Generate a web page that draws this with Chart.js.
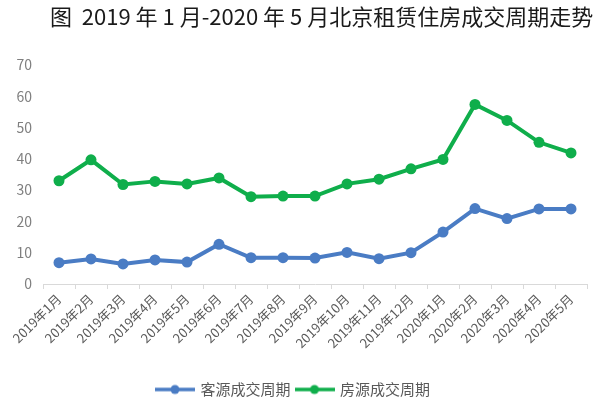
<!DOCTYPE html>
<html lang="zh">
<head>
<meta charset="utf-8">
<title>北京租赁住房成交周期走势</title>
<script src="https://cdn.jsdelivr.net/npm/chart.js"></script>
<style>
    html, body { margin: 0; padding: 0; background: #ffffff; }
    #wrap { width: 600px; height: 413px; position: relative; }
</style>
</head>
<body>
<div id="wrap"><canvas id="trendChart"></canvas></div>
<script>
// 数据：数值（天）
const titleText = "图  2019 年 1 月-2020 年 5 月北京租赁住房成交周期走势";
const months = ["2019年1月", "2019年2月", "2019年3月", "2019年4月", "2019年5月", "2019年6月",
    "2019年7月", "2019年8月", "2019年9月", "2019年10月", "2019年11月", "2019年12月",
    "2020年1月", "2020年2月", "2020年3月", "2020年4月", "2020年5月"];
const clientCycle = [6.8, 8.0, 6.4, 7.7, 7.0, 12.7, 8.4, 8.4, 8.3, 10.1, 8.1, 10.0, 16.6, 24.1, 20.9, 24.0, 24.0];
const houseCycle = [33.0, 39.7, 31.8, 32.8, 32.0, 33.9, 27.9, 28.1, 28.1, 32.0, 33.5, 36.8, 39.8, 57.4, 52.3, 45.3, 41.9];
const seriesNames = ["客源成交周期", "房源成交周期"];
const yMin = 0, yMax = 70, yStep = 10;

const blue = "#4a7cc4";
const green = "#0fae4b";
const fontFamily = '"Noto Sans CJK SC", "Noto Sans", sans-serif';

// 图例里的“线+圆点”标记
function makeLegendMarker(color) {
    const c = document.createElement("canvas");
    c.width = 40;
    c.height = 12;
    const g = c.getContext("2d");
    g.strokeStyle = color;
    g.lineWidth = 3.5;
    g.beginPath();
    g.moveTo(0, 6);
    g.lineTo(40, 6);
    g.stroke();
    g.fillStyle = color;
    g.beginPath();
    g.arc(20, 6, 4.5, 0, Math.PI * 2);
    g.fill();
    return c;
}
const markers = [makeLegendMarker(blue), makeLegendMarker(green)];

// 标题：靠左画在顶部
const titlePlugin = {
    id: "leftTitle",
    afterDraw(chart) {
        const ctx = chart.ctx;
        ctx.save();
        ctx.font = '22px ' + fontFamily;
        ctx.fillStyle = "#1a1a1a";
        ctx.textAlign = "left";
        ctx.textBaseline = "middle";
        ctx.fillText(titleText, 50, 17);
        ctx.restore();
    }
};

const ctx = document.getElementById("trendChart").getContext("2d");
new Chart(ctx, {
    type: "line",
    data: {
        labels: months,
        datasets: [{
            label: seriesNames[0],
            data: clientCycle,
            borderColor: blue,
            backgroundColor: blue,
            borderWidth: 4,
            pointRadius: 5.5,
            pointHoverRadius: 5.5,
            pointBorderWidth: 0,
            tension: 0
        }, {
            label: seriesNames[1],
            data: houseCycle,
            borderColor: green,
            backgroundColor: green,
            borderWidth: 4,
            pointRadius: 5.5,
            pointHoverRadius: 5.5,
            pointBorderWidth: 0,
            tension: 0
        }]
    },
    options: {
        responsive: true,
        maintainAspectRatio: false,
        animation: false,
        layout: { padding: { top: 65, right: 13, left: 0, bottom: 6 } },
        plugins: {
            title: { display: false },
            tooltip: { enabled: false },
            legend: {
                position: "bottom",
                labels: {
                    usePointStyle: true,
                    pointStyleWidth: 36,
                    boxHeight: 12,
                    padding: 6,
                    color: "#595959",
                    font: { size: 15, family: fontFamily },
                    generateLabels: function (chart) {
                        const items = Chart.defaults.plugins.legend.labels.generateLabels(chart);
                        items.forEach(item => { item.pointStyle = markers[item.datasetIndex]; });
                        return items;
                    }
                }
            }
        },
        scales: {
            x: {
                offset: true,
                grid: {
                    offset: true,
                    drawOnChartArea: false,
                    color: "#d9d9d9",
                    tickLength: 5
                },
                border: { color: "#d9d9d9" },
                ticks: {
                    autoSkip: false,
                    minRotation: 45,
                    maxRotation: 45,
                    padding: 2,
                    color: "#595959",
                    font: { size: 13, family: fontFamily }
                },
                afterFit: function (scale) { scale.height = 92; }
            },
            y: {
                min: yMin,
                max: yMax,
                grid: { display: false, drawTicks: false },
                border: { display: false },
                ticks: {
                    stepSize: yStep,
                    padding: 11,
                    color: "#7f7f7f",
                    font: { size: 14, family: fontFamily }
                },
                afterFit: function (scale) { scale.width = 43; }
            }
        }
    },
    plugins: [titlePlugin]
});
</script>
</body>
</html>
